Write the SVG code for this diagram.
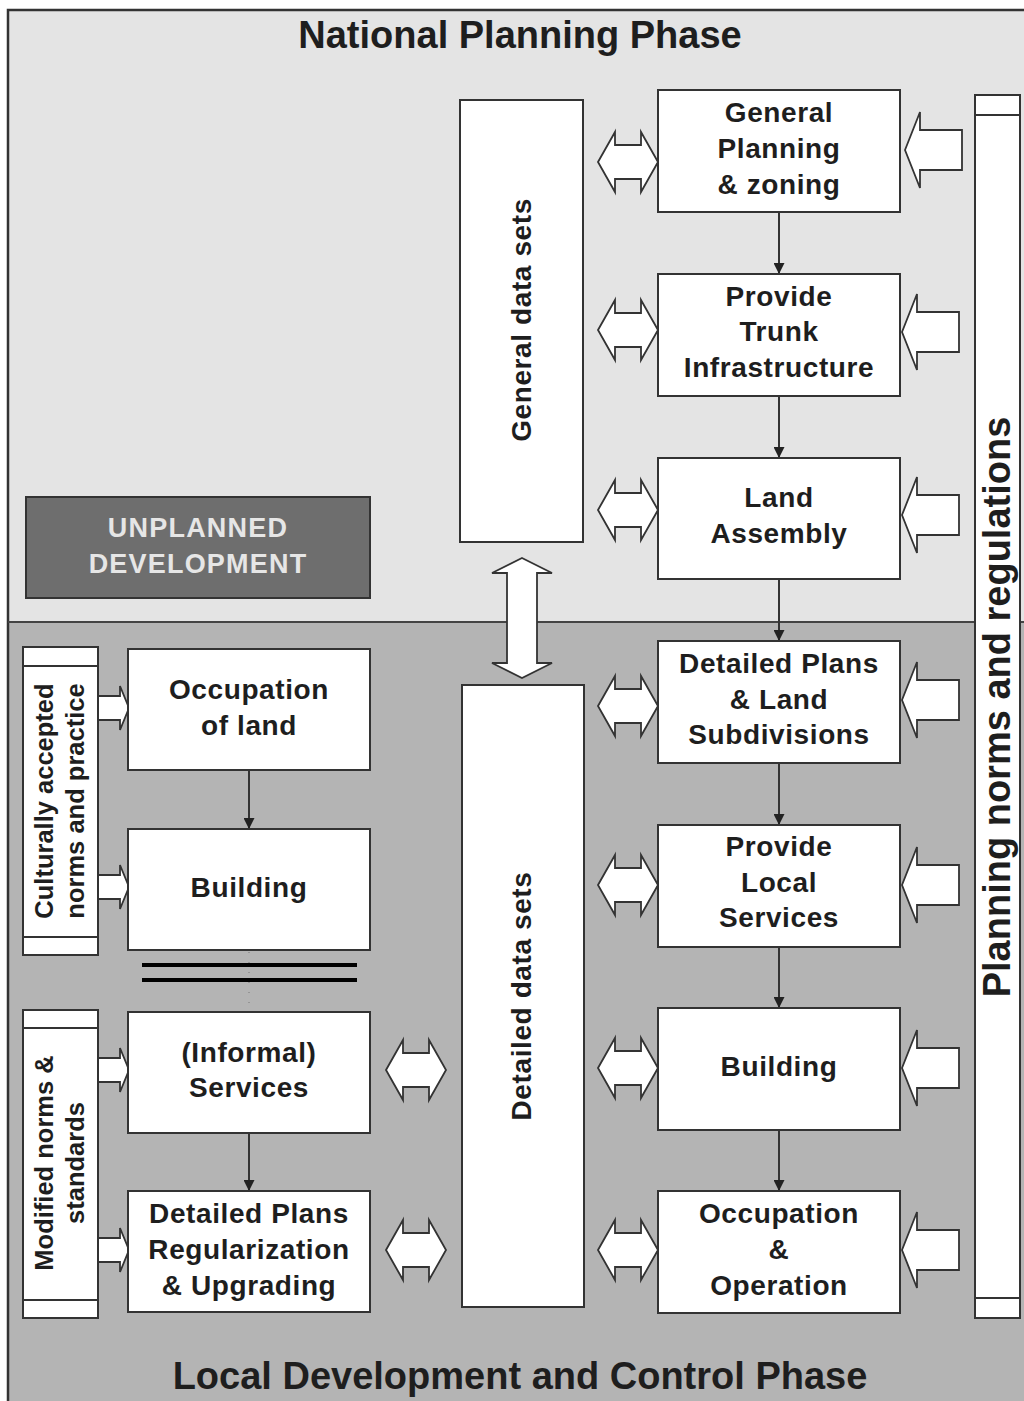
<svg xmlns="http://www.w3.org/2000/svg" width="1024" height="1401" viewBox="0 0 1024 1401">
<style>
.box{fill:#fff;stroke:#333;stroke-width:2}
.t{font-family:"Liberation Sans",Arial,sans-serif;font-weight:bold;fill:#1e1e1e;text-anchor:middle}
.bt{font-size:28px;letter-spacing:0.6px}
.ar{fill:#fff;stroke:#333;stroke-width:1.8;stroke-linejoin:miter}
.cn{stroke:#333;stroke-width:2;fill:none}
</style>
<defs>
<marker id="ah" markerWidth="11" markerHeight="11" refX="10" refY="5" orient="auto" markerUnits="userSpaceOnUse" viewBox="0 0 10 10">
<path d="M0,0 L10,5 L0,10 Z" fill="#222"/>
</marker>
<path id="inL" d="M0,0 L15,-38 L15,-20 L57,-20 L57,20 L15,20 L15,38 Z"/>
<path id="dbl" d="M-30,0 L-13,-30 L-13,-17 L13,-17 L13,-30 L30,0 L13,30 L13,17 L-13,17 L-13,30 Z"/>
<path id="inR" d="M0,-12 L22,-12 L22,-22 L31,0 L22,22 L22,12 L0,12 Z"/>
</defs>

<g id="background">
<rect x="8" y="10" width="1030" height="612" fill="#e4e4e4"/>
<rect x="8" y="622" width="1030" height="790" fill="#b4b4b4"/>
<rect x="8" y="10" width="1030" height="1400" fill="none" stroke="#333" stroke-width="2.5"/>
<line x1="8" y1="622" x2="1024" y2="622" stroke="#444" stroke-width="2"/>
<text class="t" x="520" y="48" font-size="38">National Planning Phase</text>
<text class="t" x="520" y="1389" font-size="38">Local Development and Control Phase</text>
</g>

<g id="connectors">
<line class="cn" x1="779" y1="212" x2="779" y2="274" marker-end="url(#ah)"/>
<line class="cn" x1="779" y1="396" x2="779" y2="458" marker-end="url(#ah)"/>
<line class="cn" x1="779" y1="579" x2="779" y2="641" marker-end="url(#ah)"/>
<line class="cn" x1="779" y1="763" x2="779" y2="825" marker-end="url(#ah)"/>
<line class="cn" x1="779" y1="947" x2="779" y2="1008" marker-end="url(#ah)"/>
<line class="cn" x1="779" y1="1130" x2="779" y2="1191" marker-end="url(#ah)"/>
<line class="cn" x1="249" y1="770" x2="249" y2="829" marker-end="url(#ah)"/>
<line class="cn" x1="249" y1="1133" x2="249" y2="1191" marker-end="url(#ah)"/>
<line x1="249" y1="952" x2="249" y2="1010" stroke="#777" stroke-width="1" stroke-dasharray="1,9"/>
<line x1="142" y1="965" x2="357" y2="965" stroke="#000" stroke-width="4"/>
<line x1="142" y1="980" x2="357" y2="980" stroke="#000" stroke-width="4"/>
<path class="ar" d="M522,558 L552,573 L537,573 L537,663 L552,663 L522,678 L492,663 L507,663 L507,573 L492,573 Z"/>
<use href="#dbl" class="ar" transform="translate(628,162)"/>
<use href="#dbl" class="ar" transform="translate(628,330)"/>
<use href="#dbl" class="ar" transform="translate(628,510)"/>
<use href="#dbl" class="ar" transform="translate(628,706)"/>
<use href="#dbl" class="ar" transform="translate(628,885)"/>
<use href="#dbl" class="ar" transform="translate(628,1068)"/>
<use href="#dbl" class="ar" transform="translate(628,1250)"/>
<use href="#dbl" class="ar" transform="translate(416,1070)"/>
<use href="#dbl" class="ar" transform="translate(416,1250)"/>
<use href="#inL" class="ar" transform="translate(905,150)"/>
<use href="#inL" class="ar" transform="translate(902,332)"/>
<use href="#inL" class="ar" transform="translate(902,515)"/>
<use href="#inL" class="ar" transform="translate(902,700)"/>
<use href="#inL" class="ar" transform="translate(902,885)"/>
<use href="#inL" class="ar" transform="translate(902,1068)"/>
<use href="#inL" class="ar" transform="translate(902,1250)"/>
<use href="#inR" class="ar" transform="translate(98,708)"/>
<use href="#inR" class="ar" transform="translate(98,887)"/>
<use href="#inR" class="ar" transform="translate(98,1070)"/>
<use href="#inR" class="ar" transform="translate(98,1250)"/>
</g>

<g id="general-planning">
<rect class="box" x="658" y="90" width="242" height="122"/>
<text class="t bt" x="779" y="122">General</text>
<text class="t bt" x="779" y="158">Planning</text>
<text class="t bt" x="779" y="194">&amp; zoning</text>
</g>
<g id="trunk-infrastructure">
<rect class="box" x="658" y="274" width="242" height="122"/>
<text class="t bt" x="779" y="306">Provide</text>
<text class="t bt" x="779" y="341">Trunk</text>
<text class="t bt" x="779" y="377">Infrastructure</text>
</g>
<g id="land-assembly">
<rect class="box" x="658" y="458" width="242" height="121"/>
<text class="t bt" x="779" y="507">Land</text>
<text class="t bt" x="779" y="543">Assembly</text>
</g>
<g id="detailed-plans">
<rect class="box" x="658" y="641" width="242" height="122"/>
<text class="t bt" x="779" y="673">Detailed Plans</text>
<text class="t bt" x="779" y="709">&amp; Land</text>
<text class="t bt" x="779" y="744">Subdivisions</text>
</g>
<g id="local-services">
<rect class="box" x="658" y="825" width="242" height="122"/>
<text class="t bt" x="779" y="856">Provide</text>
<text class="t bt" x="779" y="892">Local</text>
<text class="t bt" x="779" y="927">Services</text>
</g>
<g id="building-right">
<rect class="box" x="658" y="1008" width="242" height="122"/>
<text class="t bt" x="779" y="1076">Building</text>
</g>
<g id="occupation-operation">
<rect class="box" x="658" y="1191" width="242" height="122"/>
<text class="t bt" x="779" y="1223">Occupation</text>
<text class="t bt" x="779" y="1259">&amp;</text>
<text class="t bt" x="779" y="1295">Operation</text>
</g>

<g id="occupation-land">
<rect class="box" x="128" y="649" width="242" height="121"/>
<text class="t bt" x="249" y="699">Occupation</text>
<text class="t bt" x="249" y="735">of land</text>
</g>
<g id="building-left">
<rect class="box" x="128" y="829" width="242" height="121"/>
<text class="t bt" x="249" y="897">Building</text>
</g>
<g id="informal-services">
<rect class="box" x="128" y="1012" width="242" height="121"/>
<text class="t bt" x="249" y="1062">(Informal)</text>
<text class="t bt" x="249" y="1097">Services</text>
</g>
<g id="regularization">
<rect class="box" x="128" y="1191" width="242" height="121"/>
<text class="t bt" x="249" y="1223">Detailed Plans</text>
<text class="t bt" x="249" y="1259">Regularization</text>
<text class="t bt" x="249" y="1295">&amp; Upgrading</text>
</g>

<g id="general-data-sets">
<rect class="box" x="460" y="100" width="123" height="442"/>
<text class="t bt" transform="translate(531,320) rotate(-90)">General data sets</text>
</g>
<g id="detailed-data-sets">
<rect class="box" x="462" y="685" width="122" height="622"/>
<text class="t bt" transform="translate(531,996) rotate(-90)">Detailed data sets</text>
</g>

<g id="unplanned-development">
<rect x="26" y="497" width="344" height="101" fill="#6e6e6e" stroke="#333" stroke-width="2"/>
<text class="t" x="198" y="537" font-size="27" letter-spacing="1.2" style="fill:#e6e6e6">UNPLANNED</text>
<text class="t" x="198" y="573" font-size="27" letter-spacing="1.2" style="fill:#e6e6e6">DEVELOPMENT</text>
</g>

<g id="planning-norms">
<rect class="box" x="975" y="95" width="45" height="1223"/>
<line x1="975" y1="115" x2="1020" y2="115" stroke="#333" stroke-width="2"/>
<line x1="975" y1="1298" x2="1020" y2="1298" stroke="#333" stroke-width="2"/>
<text class="t" font-size="38" transform="translate(1010,707) rotate(-90)">Planning norms and regulations</text>
</g>

<g id="cultural-norms">
<rect class="box" x="23" y="647" width="75" height="308"/>
<line x1="23" y1="666" x2="98" y2="666" stroke="#333" stroke-width="2"/>
<line x1="23" y1="937" x2="98" y2="937" stroke="#333" stroke-width="2"/>
<text class="t" font-size="25.5" transform="translate(53,801) rotate(-90)">Culturally accepted</text>
<text class="t" font-size="25.5" transform="translate(84,801) rotate(-90)">norms and practice</text>
</g>

<g id="modified-norms">
<rect class="box" x="23" y="1010" width="75" height="308"/>
<line x1="23" y1="1028" x2="98" y2="1028" stroke="#333" stroke-width="2"/>
<line x1="23" y1="1300" x2="98" y2="1300" stroke="#333" stroke-width="2"/>
<text class="t" font-size="25.5" transform="translate(53,1163) rotate(-90)">Modified norms &amp;</text>
<text class="t" font-size="25.5" transform="translate(84,1163) rotate(-90)">standards</text>
</g>
</svg>
